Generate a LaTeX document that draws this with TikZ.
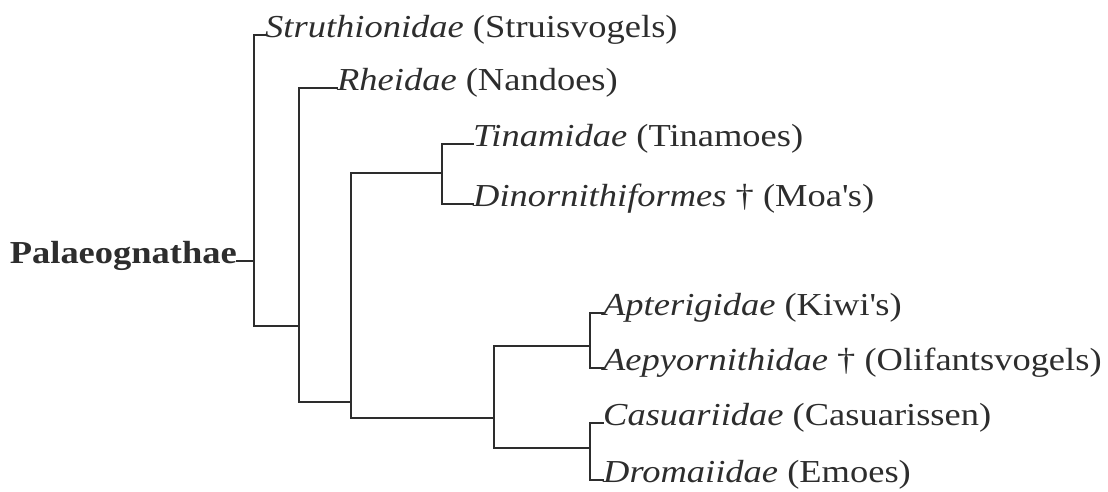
\documentclass[tikz,border=0pt]{standalone}
\usepackage{fontspec}
\setmainfont{Liberation Serif}[FakeStretch=1.14]
\usepackage{xcolor}
\usetikzlibrary{positioning}
\definecolor{inkgray}{RGB}{45,45,45}

\begin{document}
\begin{tikzpicture}[
  x=1pt, y=-1pt,
  font=\fontsize{32}{38}\selectfont,
  every node/.style={inner sep=0pt, text=inkgray},
  taxon/.style={anchor=mid west},
  cladelbl/.style={anchor=mid east, font=\fontsize{32}{38}\selectfont\bfseries},
  branch/.style={draw=inkgray, line width=1.6pt, line cap=rect},
]
\useasboundingbox (0,0) rectangle (1108,492);

%% Clade x-positions (1pt = 1px of the scan)
\def\xA{254}   % Palaeognathae
\def\xB{299}   % all but ostriches
\def\xC{351}   % tinamous + rest
\def\xD{442}   % tinamous + moas
\def\xE{494}   % kiwis, elephant birds, cassowaries, emus
\def\xF{590}   % sister pairs

%% Inner nodes
\coordinate (root) at (\xA,261);
\coordinate (nB) at (\xB,326);
\coordinate (nC) at (\xC,402);
\coordinate (nD) at (\xD,173);
\coordinate (nE) at (\xE,418);
\coordinate (nF) at (\xF,346);
\coordinate (nG) at (\xF,448);

%% Clade label
\node[cladelbl] (pal) at (237,261) {Palaeognathae};

%% Taxa
\node[taxon] (struth) at (265,35)  {\textit{Struthionidae} (Struisvogels)};
\node[taxon] (rhei)   at (337,88)  {\textit{Rheidae} (Nandoes)};
\node[taxon] (tina)   at (473,144) {\textit{Tinamidae} (Tinamoes)};
\node[taxon] (dino)   at (473,204) {\textit{Dinornithiformes} † (Moa\textquotesingle s)};
\node[taxon] (apte)   at (603,313) {\textit{Apterigidae} (Kiwi\textquotesingle s)};
\node[taxon] (aepy)   at (603,368) {\textit{Aepyornithidae} † (Olifantsvogels)};
\node[taxon] (casu)   at (603,423) {\textit{Casuariidae} (Casuarissen)};
\node[taxon] (drom)   at (603,480) {\textit{Dromaiidae} (Emoes)};

%% Branches
\draw[branch] (pal.mid east) -- (root);
\draw[branch] (root) |- (struth.mid west);
\draw[branch] (root) |- (nB);
\draw[branch] (nB) |- (rhei.mid west);
\draw[branch] (nB) |- (nC);
\draw[branch] (nC) |- (nD);
\draw[branch] (nC) |- (nE);
\draw[branch] (nD) |- (tina.mid west);
\draw[branch] (nD) |- (dino.mid west);
\draw[branch] (nE) |- (nF);
\draw[branch] (nE) |- (nG);
\draw[branch] (nF) |- (apte.mid west);
\draw[branch] (nF) |- (aepy.mid west);
\draw[branch] (nG) |- (casu.mid west);
\draw[branch] (nG) |- (drom.mid west);

\end{tikzpicture}
\end{document}
